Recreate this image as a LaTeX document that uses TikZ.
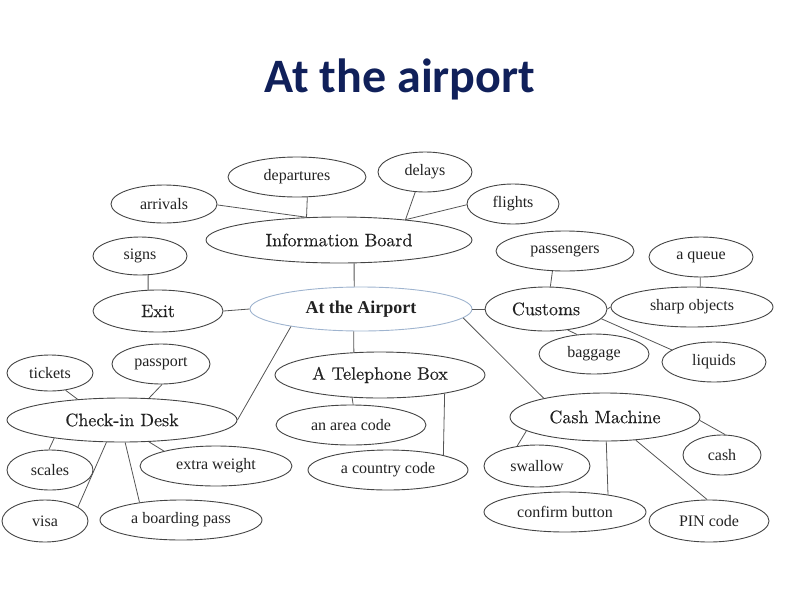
\documentclass[tikz,border=0pt]{standalone}
\usepackage{fontspec}
\usetikzlibrary{shapes.geometric}
\newfontfamily\tnr{Liberation Serif}
\newfontfamily\titlefont{Carlito}
\newfontfamily\hubfont{lmroman10-regular.otf}[FakeBold=0.35]
\newcommand\mytxt[1]{\makebox[0pt]{#1}}
\definecolor{navy}{HTML}{10205A}
\definecolor{ink}{HTML}{222222}
\definecolor{edge}{HTML}{444444}
\definecolor{lnk}{HTML}{555555}
\definecolor{paleblue}{HTML}{9FB4CF}
\tikzset{
  ell/.style n args={2}{ellipse, draw=edge, line width=0.9pt, inner sep=0pt,
     minimum width=#1, minimum height=#2, text=ink},
  leaf/.style={font=\tnr\fontsize{16}{18}\selectfont},
  hub/.style={font=\hubfont\fontsize{18}{20}\selectfont},
  link/.style={draw=lnk, line width=0.8pt},
}
\begin{document}
\begin{tikzpicture}[x=1pt,y=-1pt]
\useasboundingbox (0,0) rectangle (800,600);
\node[font=\titlefont\bfseries\fontsize{48}{52}\selectfont, text=navy, anchor=base] (title) at (400,92) {At the airport};
% nodes
\node[ell={138pt}{40pt}, leaf] (dep) at (297,177) {\mytxt{departures}};
\node[ell={94pt}{40pt}, leaf] (del) at (425,172) {\mytxt{delays}};
\node[ell={106pt}{38pt}, leaf] (arr) at (164,204) {\mytxt{arrivals}};
\node[ell={92pt}{40pt}, leaf] (fli) at (513,204) {\mytxt{flights}};
\node[ell={266pt}{46pt}, hub] (ib) at (339,240) {\mytxt{Information Board}};
\node[ell={94pt}{38pt}, leaf] (sig) at (140,256) {\mytxt{signs}};
\node[ell={130pt}{42pt}, hub] (exit) at (158,311) {\mytxt{Exit}};
\node[ell={222pt}{44pt}, draw=paleblue, font=\tnr\bfseries\fontsize{18}{20}\selectfont] (air) at (361,309) {\mytxt{At the Airport}};
\node[ell={122pt}{44pt}, hub] (cus) at (546,309) {\mytxt{Customs}};
\node[ell={138pt}{40pt}, leaf] (pas) at (565,251) {\mytxt{passengers}};
\node[ell={104pt}{40pt}, leaf] (que) at (701,257) {\mytxt{a queue}};
\node[ell={162pt}{40pt}, leaf] (sha) at (692,307) {\mytxt{sharp objects}};
\node[ell={110pt}{40pt}, leaf] (bag) at (594,354) {\mytxt{baggage}};
\node[ell={104pt}{40pt}, leaf] (liq) at (714,362) {\mytxt{liquids}};
\node[ell={86pt}{36pt}, leaf] (tic) at (50,373) {\mytxt{tickets}};
\node[ell={98pt}{40pt}, leaf] (ppt) at (161,364) {\mytxt{passport}};
\node[ell={230pt}{44pt}, hub] (chk) at (122,420) {\mytxt{Check-in Desk}};
\node[ell={86pt}{40pt}, leaf] (sca) at (50,470) {\mytxt{scales}};
\node[ell={152pt}{40pt}, leaf] (ext) at (216,466) {\mytxt{extra weight}};
\node[ell={86pt}{42pt}, leaf] (visa) at (45,521) {\mytxt{visa}};
\node[ell={162pt}{40pt}, leaf] (bp) at (181,520) {\mytxt{a boarding pass}};
\node[ell={210pt}{46pt}, hub] (tel) at (380,375) {\mytxt{A Telephone Box}};
\node[ell={150pt}{40pt}, leaf] (area) at (351,425) {\mytxt{an area code}};
\node[ell={160pt}{40pt}, leaf] (ctry) at (388,470) {\mytxt{a country code}};
\node[ell={190pt}{48pt}, hub] (cm) at (605,417) {\mytxt{Cash Machine}};
\node[ell={78pt}{40pt}, leaf] (cash) at (722,455) {\mytxt{cash}};
\node[ell={106pt}{42pt}, leaf] (swa) at (537,466) {\mytxt{swallow}};
\node[ell={162pt}{40pt}, leaf] (conf) at (565,512) {\mytxt{confirm button}};
\node[ell={120pt}{42pt}, leaf] (pin) at (709,521) {\mytxt{PIN code}};
% connectors
\path[link] (arr.-1) -- (ib.145);
\path[link] (dep.-63) -- (ib.145);
\path[link] (del.244) -- (ib.17.5);
\path[link] (fli.181) -- (ib.17.5);
\path[link] (ib.-57) -- (air.107.6);
\path[link] (sig.-67) -- (exit.115.7);
\path[link] (exit.east) -- (air.west);
\path[link] (air.east) -- (cus.west);
\path[link] (pas.238.6) -- (cus.79.7);
\path[link] (que.-92) -- (sha.68);
\path[link] (cus.east) -- (sha.west);
\path[link] (cus.-44.5) -- (bag.131.8);
\path[link] (cus.-10.7) -- (liq.164.3);
\path[link] (air.-5) -- (cm.163.6);
\path[link] (air.194) -- (chk.east);
\path[link] (air.252.4) -- (tel.139.4);
\path[link] (tel.219.4) -- (area.84);
\path[link] (tel.-16.7) -- (ctry.15.3);
\path[link] (tic.-48.4) -- (chk.155.2);
\path[link] (ppt.-87) -- (chk.39.5);
\path[link] (chk.195.6) -- (sca.93);
\path[link] (chk.-39.5) -- (ext.164.9);
\path[link] (chk.235.5) -- (visa.23.6);
\path[link] (chk.-82.2) -- (bp.157.2);
\path[link] (cm.190) -- (swa.135.9);
\path[link] (cm.-87.6) -- (conf.22.8);
\path[link] (cm.-37.2) -- (pin.95);
\path[link] (cm.-2) -- (cash.81.9);
\end{tikzpicture}
\end{document}
